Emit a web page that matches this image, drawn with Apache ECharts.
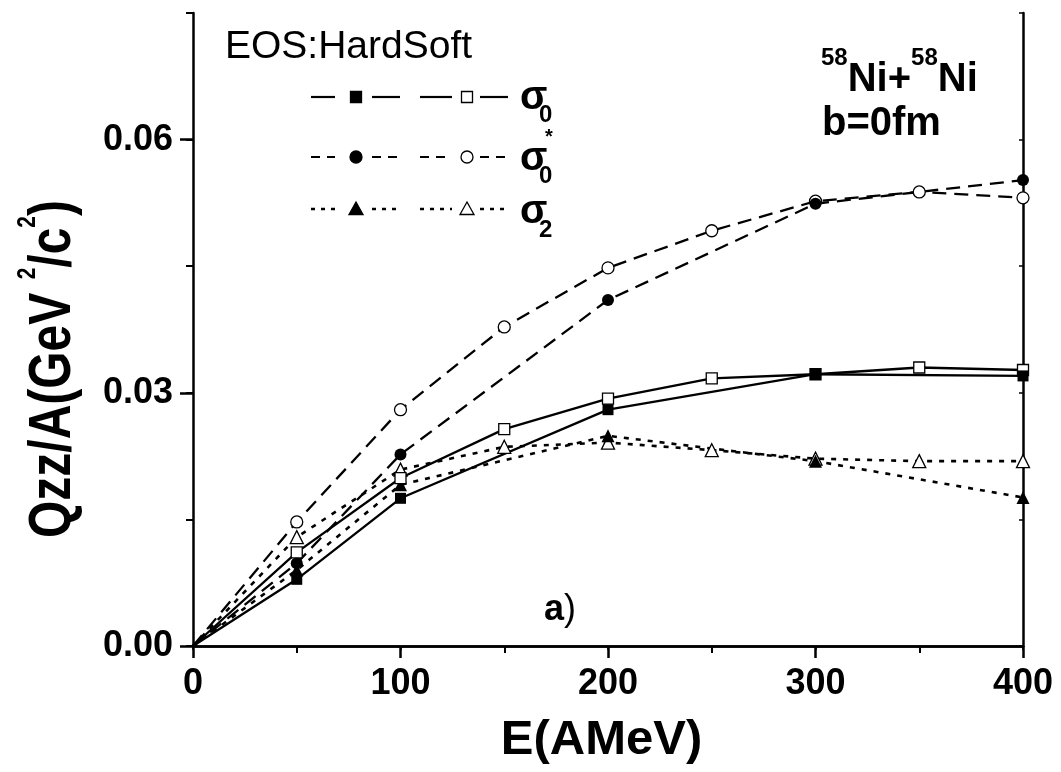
<!DOCTYPE html>
<html>
<head>
<meta charset="utf-8">
<script src="https://cdn.jsdelivr.net/npm/echarts@6/dist/echarts.min.js"></script>
<style>
html,body{margin:0;padding:0;background:#fff;}
#chart{width:1061px;height:772px;}
</style>
</head>
<body>
<div id="chart"></div>
<script>
// ---- data ----
const energyAll = [0, 50, 100, 150, 200, 250, 300, 350, 400];
const energySparse = [0, 50, 100, 200, 300, 400];
const sigma0Filled = [0, 0.0079, 0.0175, 0.0280, 0.0322, 0.0320];
const sigma0Open = [0, 0.0111, 0.0199, 0.0257, 0.0293, 0.0317, 0.0322, 0.0330, 0.0327];
const sigma0StarFilled = [0, 0.0098, 0.0227, 0.0410, 0.0524, 0.0552];
const sigma0StarOpen = [0, 0.0147, 0.0280, 0.0378, 0.0448, 0.0492, 0.0527, 0.0538, 0.0531];
const sigma2Filled = [0, 0.0090, 0.0191, 0.0249, 0.0219, 0.0176];
const sigma2Open = [0, 0.0129, 0.0209, 0.0236, 0.0241, 0.0232, 0.0222, 0.0219, 0.0219];
const yLabelValues = [0, 0.03, 0.06];

const FONT = '"Liberation Sans", Arial, Helvetica, sans-serif';
const BLACK = '#000';

function pts(xs, ys) {
  return xs.map((x, i) => i === 0 ? { value: [x, ys[i]], symbol: 'none' } : [x, ys[i]]);
}

function mkSeries(name, xs, ys, symbol, filled, dash, width, size) {
  return {
    name: name,
    type: 'line',
    xAxisIndex: 0,
    yAxisIndex: 0,
    data: pts(xs, ys),
    symbol: symbol,
    symbolSize: size,
    showAllSymbol: true,
    lineStyle: { color: BLACK, width: width, type: dash },
    itemStyle: { color: filled ? BLACK : '#fff', borderColor: BLACK, borderWidth: filled ? 0 : 1.3 },
    emphasis: { disabled: true },
    clip: false
  };
}

const chart = echarts.init(document.getElementById('chart'), null, { renderer: 'canvas' });

// legend sample drawing helpers (decoration, not data)
const legendRows = [
  { y: 97, dash: null, sym: 'rect' },
  { y: 157, dash: [9, 7], sym: 'circle' },
  { y: 209, dash: [4, 6], sym: 'triangle' }
];
const segs = [[311, 335], [372, 400], [420, 452], [480, 508]];
const symX = [356, 467];
const graphics = [];
legendRows.forEach(r => {
  segs.forEach(s => {
    graphics.push({
      type: 'line', shape: { x1: s[0], y1: r.y, x2: s[1], y2: r.y },
      style: { stroke: BLACK, lineWidth: r.sym === 'triangle' ? 2.5 : 2.2, lineDash: r.dash }
    });
  });
  symX.forEach((cx, k) => {
    const fill = k === 0 ? BLACK : '#fff';
    const st = { fill: fill, stroke: BLACK, lineWidth: 1.3 };
    if (r.sym === 'rect') graphics.push({ type: 'rect', shape: { x: cx - 5.5, y: r.y - 5.5, width: 11, height: 11 }, style: st });
    else if (r.sym === 'circle') graphics.push({ type: 'circle', shape: { cx: cx, cy: r.y, r: 6 }, style: st });
    else graphics.push({ type: 'polygon', shape: { points: [[cx, r.y - 7], [cx + 7, r.y + 5.5], [cx - 7, r.y + 5.5]] }, style: st });
  });
});
function txt(x, y, text, size, weight, align, extra) {
  return Object.assign({
    type: 'text', x: x, y: y,
    style: Object.assign({ text: text, fontSize: size, fontWeight: weight, fontFamily: FONT, fill: BLACK,
      align: align || 'left', verticalAlign: 'middle' }, extra || {})
  });
}
// sigma labels
graphics.push(txt(520, 98, 'σ', 40, 'bold'));
graphics.push(txt(539, 115.5, '0', 24, 'bold'));
graphics.push(txt(520, 159, 'σ', 40, 'bold'));
graphics.push(txt(539, 176.5, '0', 24, 'bold'));
graphics.push(txt(545, 137, '*', 20, 'bold'));
graphics.push(txt(520, 212, 'σ', 40, 'bold'));
graphics.push(txt(539, 230, '2', 24, 'bold'));
// annotations
graphics.push(txt(225, 47, 'EOS:HardSoft', 39, 'normal'));
graphics.push(txt(821, 80, '{s|58}{b|Ni+}{s|58}{b|Ni}', 40, 'bold', 'left', {
  rich: {
    b: { fontSize: 40, fontWeight: 'bold', fontFamily: FONT, fill: BLACK, lineHeight: 67 },
    s: { fontSize: 24, fontWeight: 'bold', fontFamily: FONT, fill: BLACK, verticalAlign: 'top' }
  }
}));
graphics.push(txt(822, 123.5, 'b=0fm', 40, 'bold'));
graphics.push(txt(544, 610, '{b|a}{r|)}', 36, 'bold', 'left', {
  rich: {
    b: { fontSize: 36, fontWeight: 'bold', fontFamily: FONT, fill: BLACK },
    r: { fontSize: 36, fontWeight: 'normal', fontFamily: FONT, fill: BLACK }
  }
}));
// y-axis title (rotated, slightly stretched glyph height)
graphics.push({
  type: 'text', x: 53, y: 369, rotation: Math.PI / 2, scaleY: 1.25,
  style: {
    text: '{b|Qzz/A(GeV }{s|2}{b|/c}{s|2}{b|)}',
    fontFamily: FONT, fontSize: 48, fontWeight: 'bold', fill: BLACK, align: 'center', verticalAlign: 'middle',
    rich: {
      b: { fontSize: 48, fontWeight: 'bold', fontFamily: FONT, fill: BLACK, lineHeight: 61 },
      s: { fontSize: 21, fontWeight: 'bold', fontFamily: FONT, fill: BLACK, verticalAlign: 'top' }
    }
  }
});

const axisLineStyle = { color: BLACK, width: 2.5 };
const option = {
  backgroundColor: '#fff',
  animation: false,
  grid: { left: 193, right: 38, top: 13, bottom: 126, containLabel: false },
  xAxis: [
    {
      type: 'value', position: 'bottom', min: 0, max: 400, interval: 100,
      axisLine: { show: true, lineStyle: axisLineStyle },
      axisTick: { show: true, inside: false, length: 12, lineStyle: { color: BLACK, width: 2.5 } },
      minorTick: { show: true, splitNumber: 2, length: 7, lineStyle: { color: BLACK, width: 2 } },
      splitLine: { show: false }, minorSplitLine: { show: false },
      axisLabel: { show: true, margin: 20, color: BLACK, fontSize: 36, fontWeight: 'bold', fontFamily: FONT },
      name: 'E(AMeV)', nameLocation: 'middle', nameGap: 70,
      nameTextStyle: { color: BLACK, fontSize: 49, fontWeight: 'bold', fontFamily: FONT, padding: [0, 13, 0, 0] }
    },
    {
      type: 'value', position: 'top', min: 0, max: 400, interval: 50,
      axisLine: { show: true, lineStyle: axisLineStyle },
      axisTick: { show: true, inside: true, length: 4, lineStyle: { color: BLACK, width: 1.5 } },
      axisLabel: { show: false }, splitLine: { show: false }
    }
  ],
  yAxis: [
    {
      type: 'value', position: 'left', min: 0, max: 0.075, interval: 0.015,
      axisLine: { show: true, lineStyle: axisLineStyle },
      axisTick: { show: true, inside: false, length: 7, lineStyle: { color: BLACK, width: 2 } },
      axisLabel: {
        show: true, margin: 20, color: BLACK, fontSize: 36, fontWeight: 'bold', fontFamily: FONT,
        customValues: yLabelValues,
        formatter: v => (Math.abs(v / 0.03 - Math.round(v / 0.03)) < 1e-6 ? v.toFixed(2) : '')
      },
      splitLine: { show: false }
    },
    {
      type: 'value', position: 'left', min: 0, max: 0.075, interval: 0.03,
      axisLine: { show: false },
      axisTick: { show: true, inside: false, length: 13, customValues: yLabelValues, lineStyle: { color: BLACK, width: 2.5 } },
      axisLabel: { show: false }, splitLine: { show: false }
    },
    {
      type: 'value', position: 'right', min: 0, max: 0.075, interval: 0.015,
      axisLine: { show: true, lineStyle: axisLineStyle },
      axisTick: { show: true, inside: true, length: 4, lineStyle: { color: BLACK, width: 1.5 } },
      axisLabel: { show: false }, splitLine: { show: false }
    }
  ],
  series: [
    mkSeries('σ0* open', energyAll, sigma0StarOpen, 'circle', false, [14, 8], 2.3, 12),
    mkSeries('σ0* filled', energySparse, sigma0StarFilled, 'circle', true, [14, 8], 2.3, 12),
    mkSeries('σ2 open', energyAll, sigma2Open, 'triangle', false, [5, 7], 2.6, 13),
    mkSeries('σ2 filled', energySparse, sigma2Filled, 'triangle', true, [5, 7], 2.6, 13),
    mkSeries('σ0 open', energyAll, sigma0Open, 'rect', false, 'solid', 2.3, 11),
    mkSeries('σ0 filled', energySparse, sigma0Filled, 'rect', true, 'solid', 2.3, 11)
  ],
  graphic: graphics
};
chart.setOption(option);
</script>
</body>
</html>
